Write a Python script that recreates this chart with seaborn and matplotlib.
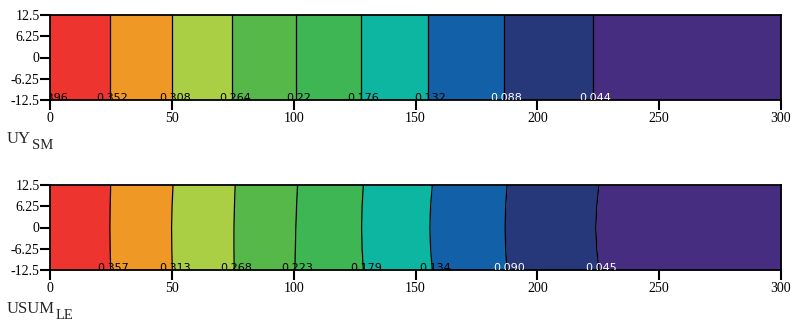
import numpy as np
import pandas as pd
import matplotlib.pyplot as plt
import seaborn as sns

# band colours, left (x=0) to right (x=300)
band_colors = ['#EE342F', '#F09825', '#AACF45', '#56B848', '#3DB653',
               '#0CB6A0', '#1160A8', '#26387A', '#472D80']

# y positions where the contour boundaries were read
y_pts = [-12.5, -6.25, 0, 6.25, 12.5]

# UY_SM: straight contour boundaries (x at each y_pts)
uy_bounds = [
    [24.7] * 5, [50.2] * 5, [74.8] * 5, [101.0] * 5, [127.6] * 5,
    [155.2] * 5, [186.2] * 5, [222.8] * 5,
]
uy_labels = ['0.396', '0.352', '0.308', '0.264', '0.22', '0.176', '0.132', '0.088', '0.044']

# USUM_LE: slightly curved boundaries
usum_bounds = [
    [24.9, 24.7, 24.6, 24.7, 24.9],
    [50.2, 50.0, 49.9, 50.1, 50.5],
    [75.6, 75.5, 75.5, 75.7, 76.0],
    [100.5, 100.7, 100.9, 101.2, 101.6],
    [128.6, 128.1, 127.9, 128.1, 128.6],
    [156.9, 156.2, 155.9, 156.2, 156.9],
    [187.6, 187.0, 186.8, 187.0, 187.6],
    [225.3, 224.4, 224.0, 224.4, 225.3],
]
usum_labels = ['0.357', '0.313', '0.268', '0.223', '0.179', '0.134', '0.090', '0.045']

x_ticks = [0, 50, 100, 150, 200, 250, 300]
y_ticks = [12.5, 6.25, 0, -6.25, -12.5]
y_ticklabels = ['12.5', '6.25', '0', '-6.25', '-12.5']

sns.set_style('ticks')
plt.rcParams['font.family'] = ['Liberation Serif', 'DejaVu Serif']


def draw_panel(ax, bounds, labels, first_label_at_zero):
    edges = [[0] * 5] + bounds + [[300] * 5]
    for i, c in enumerate(band_colors):
        ax.fill_betweenx(y_pts, edges[i], edges[i + 1], color=c, lw=0)
    for b in bounds:
        df = pd.DataFrame({'x': b, 'y': y_pts})
        sns.lineplot(data=df, x='x', y='y', ax=ax, color='black', lw=0.9,
                     orient='y', estimator=None)
    # contour labels along the bottom edge (cut off by the axes frame)
    pos = ([0] if first_label_at_zero else []) + [b[0] for b in bounds]
    for p, lab in zip(pos, labels):
        col = 'white' if lab in ('0.088', '0.044', '0.090', '0.045') else 'black'
        ax.text(p + 1, -12.9, lab, ha='center', va='baseline', fontsize=8,
                family='DejaVu Sans', color=col, clip_on=True)
    ax.set_xlim(0, 300)
    ax.set_ylim(-12.5, 12.5)
    ax.set_xticks(x_ticks)
    ax.set_yticks(y_ticks)
    ax.set_yticklabels(y_ticklabels)
    ax.set_xlabel('')
    ax.set_ylabel('')
    ax.tick_params(axis='both', direction='out', length=7, width=1.5,
                   labelsize=10, colors='black')
    ax.tick_params(axis='y', pad=0.5)
    ax.tick_params(axis='x', pad=2)
    for s in ax.spines.values():
        s.set_linewidth(1.3)
        s.set_color('black')


def panel_title(fig, main, sub, y_px):
    t = fig.text(7 / 796, 1 - y_px / 324, main, fontsize=12, va='baseline')
    ann = plt.annotate(sub, xy=(1, 0), xycoords=t, xytext=(0.3, -1.5),
                       textcoords='offset points', fontsize=10.5,
                       va='baseline', ha='left', annotation_clip=False)
    return ann


fig = plt.figure(figsize=(7.96, 3.24), dpi=100)
ax1 = fig.add_axes([50 / 796, 1 - 100 / 324, 731 / 796, 85 / 324])
ax2 = fig.add_axes([50 / 796, 1 - 270 / 324, 731 / 796, 85 / 324])

draw_panel(ax1, uy_bounds, uy_labels, True)
draw_panel(ax2, usum_bounds, usum_labels, False)

panel_title(fig, 'UY', 'SM', 143)
panel_title(fig, 'USUM', 'LE', 313)

fig.savefig('out.png', dpi=100)
